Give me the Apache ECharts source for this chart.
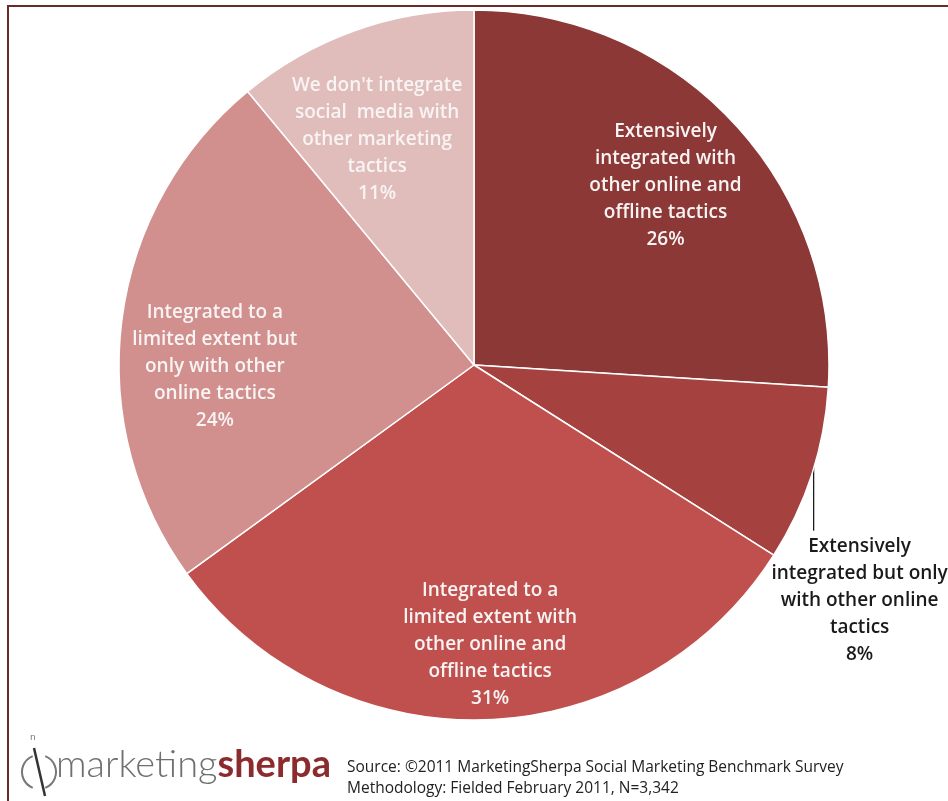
<!DOCTYPE html>
<html>
<head>
<meta charset="utf-8">
<script src="https://cdn.jsdelivr.net/npm/echarts@6/dist/echarts.min.js"></script>
<style>
html,body{margin:0;padding:0;background:#fff;}
#c{width:948px;height:801px;}
</style>
</head>
<body>
<div id="c"></div>
<script>
// ---- data ----
const categories = [
  'Extensively\nintegrated with\nother online and\noffline tactics',
  'Extensively\nintegrated but only\nwith other online\ntactics',
  'Integrated to a\nlimited extent with\nother online and\noffline tactics',
  'Integrated to a\nlimited extent but\nonly with other\nonline tactics',
  "We don't integrate\nsocial  media with\nother marketing\ntactics"
];
const values = [26, 8, 31, 24, 11];
const sourceLines = [
  'Source: \u00A92011 MarketingSherpa Social Marketing Benchmark Survey',
  'Methodology: Fielded February 2011, N=3,342'
];

// ---- style ----
const colors = ['#8C3836', '#A5423F', '#C0504D', '#D18F8E', '#E0BCBB'];
const CX = 474, CY = 365, R = 355;
// label placement: [angle offset in degrees, radial factor]
const labelPlacement = [[0, 0.74], null, [-1.5, 0.79], [-7.5, 0.73], [-3.5, 0.69]];

const total = values.reduce((a, b) => a + b, 0);
const midAngles = [];
{
  let cum = 0;
  values.forEach(v => { midAngles.push((cum + v / 2) / total * 360); cum += v; });
}

const chart = echarts.init(document.getElementById('c'), null, {renderer: 'canvas'});

const data = values.map((v, i) => ({
  name: categories[i],
  value: v,
  itemStyle: {color: colors[i]},
  label: i === 1 ? {
    position: 'outside',
    color: '#1a1a1a'
  } : {
    position: 'inside',
    color: '#f8f4f4'
  },
  labelLine: {show: i === 1, lineStyle: {color: '#1a1a1a', width: 1.3}}
}));

chart.setOption({
  animation: false,
  backgroundColor: '#ffffff',
  series: [{
    type: 'pie',
    center: [CX, CY],
    radius: R,
    startAngle: 90,
    clockwise: true,
    avoidLabelOverlap: false,
    data: data,
    itemStyle: {borderColor: '#ffffff', borderWidth: 1.5},
    label: {
      show: true,
      formatter: p => p.name + '\n' + p.value + '%',
      fontFamily: '"Open Sans", Lato, sans-serif',
      fontWeight: 600,
      fontSize: 19,
      lineHeight: 27,
      align: 'center'
    },
    labelLayout: function (params) {
      const i = params.dataIndex;
      const th = midAngles[i] * Math.PI / 180;
      if (i === 1) {
        const ex = CX + R * Math.sin(th);
        const ey = CY - R * Math.cos(th);
        const lx = ex + 2;
        const top = ey + 58;
        return {
          x: ex + 48, y: top, align: 'center', verticalAlign: 'top',
          labelLinePoints: [[lx, ey - 12], [lx, ey - 12], [lx, top - 2]]
        };
      }
      const pl = labelPlacement[i];
      const a = (midAngles[i] + pl[0]) * Math.PI / 180;
      return {
        x: CX + pl[1] * R * Math.sin(a),
        y: CY - pl[1] * R * Math.cos(a),
        align: 'center', verticalAlign: 'middle'
      };
    }
  }],
  graphic: [
    {
      type: 'rect', silent: true,
      shape: {x: 8, y: 6, width: 1200, height: 1200},
      style: {fill: null, stroke: '#6B2A2A', lineWidth: 2}
    },
    // logo icon
    {
      type: 'arc', silent: true,
      shape: {cx: 39, cy: 772, r: 17, startAngle: Math.PI * 0.62, endAngle: Math.PI * 1.38},
      style: {stroke: '#777', lineWidth: 2, fill: null}
    },
    {
      type: 'arc', silent: true,
      shape: {cx: 39, cy: 772, r: 17, startAngle: -Math.PI * 0.38, endAngle: Math.PI * 0.38},
      style: {stroke: '#777', lineWidth: 2, fill: null}
    },
    {
      type: 'line', silent: true,
      shape: {x1: 34, y1: 748, x2: 45, y2: 796},
      style: {stroke: '#333', lineWidth: 2.5}
    },
    {
      type: 'text', silent: true, left: 30, top: 733,
      style: {text: 'n', fill: '#777', font: '9px "DejaVu Sans"'}
    },
    {
      type: 'text', silent: true,
      left: 56, top: 746,
      style: {
        text: '{a|marketing}{b|sherpa}',
        rich: {
          a: {fontFamily: 'Lato, sans-serif', fontWeight: 300, fontSize: 38, fill: '#6f6f6f', color: '#6f6f6f'},
          b: {fontFamily: 'Lato, sans-serif', fontWeight: 'bold', fontSize: 38, fill: '#8B2B2E', color: '#8B2B2E'}
        }
      }
    },
    {
      type: 'text', silent: true, left: 347, top: 757,
      style: {
        text: sourceLines.join('\n'),
        fill: '#222',
        font: '15.5px "Open Sans", sans-serif',
        lineHeight: 21
      }
    }
  ]
});
</script>
</body>
</html>
